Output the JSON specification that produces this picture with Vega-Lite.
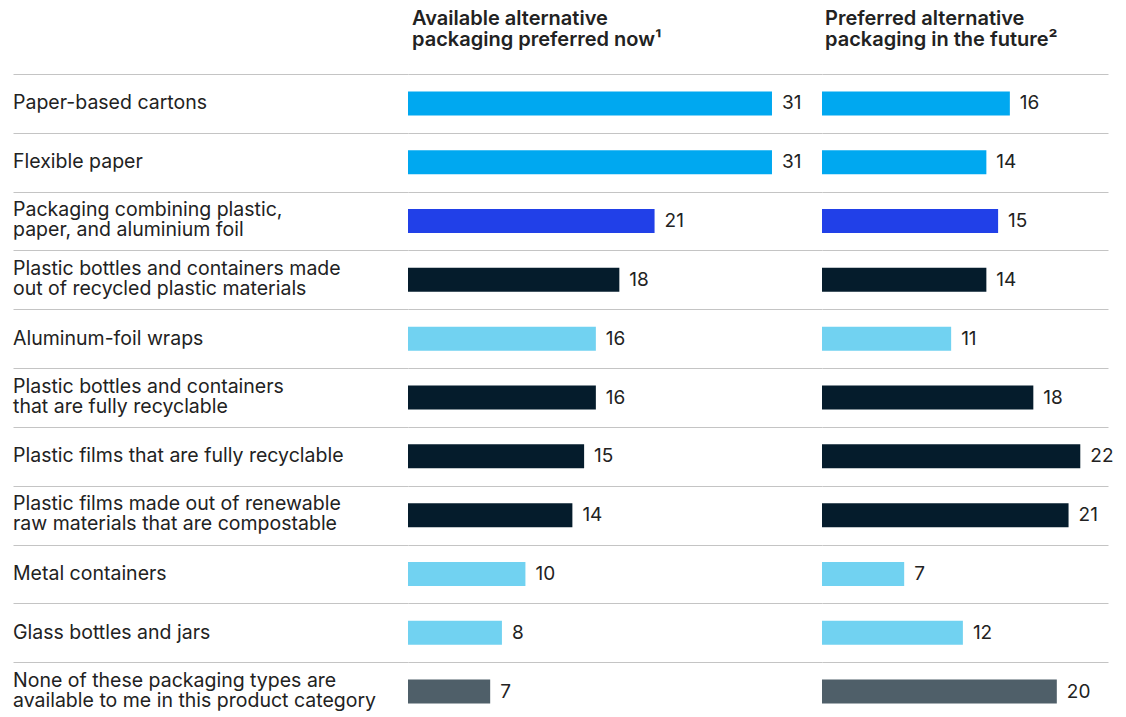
{
  "$schema": "https://vega.github.io/schema/vega-lite/v6.json",
  "background": "white",
  "padding": {"left": 13, "top": 9, "right": 10, "bottom": 0},
  "spacing": 0,
  "bounds": "flush",
  "config": {
    "view": {"stroke": null},
    "font": "Inter",
    "title": {"anchor": "start", "fontSize": 20, "fontWeight": 600, "color": "#222222", "lineHeight": 21, "offset": 24, "font": "Inter"}
  },
  "data": {
    "values": [
      {"order": 1, "label": "Paper-based cartons", "now": 31, "future": 16, "group": "paper"},
      {"order": 2, "label": "Flexible paper", "now": 31, "future": 14, "group": "paper"},
      {"order": 3, "label": "Packaging combining plastic,|paper, and aluminium foil", "now": 21, "future": 15, "group": "combo"},
      {"order": 4, "label": "Plastic bottles and containers made|out of recycled plastic materials", "now": 18, "future": 14, "group": "plastic"},
      {"order": 5, "label": "Aluminum-foil wraps", "now": 16, "future": 11, "group": "light"},
      {"order": 6, "label": "Plastic bottles and containers|that are fully recyclable", "now": 16, "future": 18, "group": "plastic"},
      {"order": 7, "label": "Plastic films that are fully recyclable", "now": 15, "future": 22, "group": "plastic"},
      {"order": 8, "label": "Plastic films made out of renewable|raw materials that are compostable", "now": 14, "future": 21, "group": "plastic"},
      {"order": 9, "label": "Metal containers", "now": 10, "future": 7, "group": "light"},
      {"order": 10, "label": "Glass bottles and jars", "now": 8, "future": 12, "group": "light"},
      {"order": 11, "label": "None of these packaging types are|available to me in this product category", "now": 7, "future": 20, "group": "none"}
    ]
  },
  "hconcat": [
    {
      "width": 395,
      "height": 647,
      "title": {"text": [" ", " "]},
      "encoding": {
        "y": {"field": "order", "type": "ordinal", "scale": {"paddingInner": 0, "paddingOuter": 0},
              "axis": {"grid": true, "tickBand": "extent", "labels": false, "ticks": false, "domain": false, "title": null, "gridColor": "#c4c4c4", "gridWidth": 1}},
        "x": {"value": 0},
        "text": {"field": "label"}
      },
      "layer": [
        {
          "transform": [{"filter": "indexof(datum.label, '|') < 0"}],
          "mark": {"type": "text", "align": "left", "baseline": "middle", "fontSize": 19.5, "lineBreak": "|", "lineHeight": 20, "color": "#222222"}
        },
        {
          "transform": [{"filter": "indexof(datum.label, '|') >= 0"}],
          "mark": {"type": "text", "align": "left", "baseline": "middle", "dy": -11, "fontSize": 19.5, "lineBreak": "|", "lineHeight": 20, "color": "#222222"}
        }
      ]
    },
    {
      "width": 414,
      "height": 647,
      "title": {"text": ["Available alternative", "packaging preferred now¹"], "dx": 4},
      "encoding": {
        "y": {"field": "order", "type": "ordinal", "scale": {"paddingInner": 0, "paddingOuter": 0},
              "axis": {"grid": true, "tickBand": "extent", "labels": false, "ticks": false, "domain": false, "title": null, "gridColor": "#c4c4c4", "gridWidth": 1}},
        "x": {"field": "now", "type": "quantitative", "scale": {"domain": [0, 35.26], "nice": false}, "axis": null}
      },
      "layer": [
        {
          "mark": {"type": "bar", "size": 24},
          "encoding": {
            "color": {"field": "group", "type": "nominal", "legend": null,
              "scale": {"domain": ["paper", "combo", "plastic", "light", "none"], "range": ["#00a8f0", "#2140e8", "#051c2c", "#71d2f1", "#4f5f69"]}}
          }
        },
        {
          "mark": {"type": "text", "align": "left", "baseline": "middle", "dx": 10, "fontSize": 19, "color": "#222222"},
          "encoding": {"text": {"field": "now", "type": "quantitative"}}
        }
      ]
    },
    {
      "width": 286,
      "height": 647,
      "title": {"text": ["Preferred alternative", "packaging in the future²"], "dx": 3},
      "encoding": {
        "y": {"field": "order", "type": "ordinal", "scale": {"paddingInner": 0, "paddingOuter": 0},
              "axis": {"grid": true, "tickBand": "extent", "labels": false, "ticks": false, "domain": false, "title": null, "gridColor": "#c4c4c4", "gridWidth": 1}},
        "x": {"field": "future", "type": "quantitative", "scale": {"domain": [0, 24.36], "nice": false}, "axis": null}
      },
      "layer": [
        {
          "mark": {"type": "bar", "size": 24},
          "encoding": {
            "color": {"field": "group", "type": "nominal", "legend": null,
              "scale": {"domain": ["paper", "combo", "plastic", "light", "none"], "range": ["#00a8f0", "#2140e8", "#051c2c", "#71d2f1", "#4f5f69"]}}
          }
        },
        {
          "mark": {"type": "text", "align": "left", "baseline": "middle", "dx": 10, "fontSize": 19, "color": "#222222"},
          "encoding": {"text": {"field": "future", "type": "quantitative"}}
        }
      ]
    }
  ]
}
